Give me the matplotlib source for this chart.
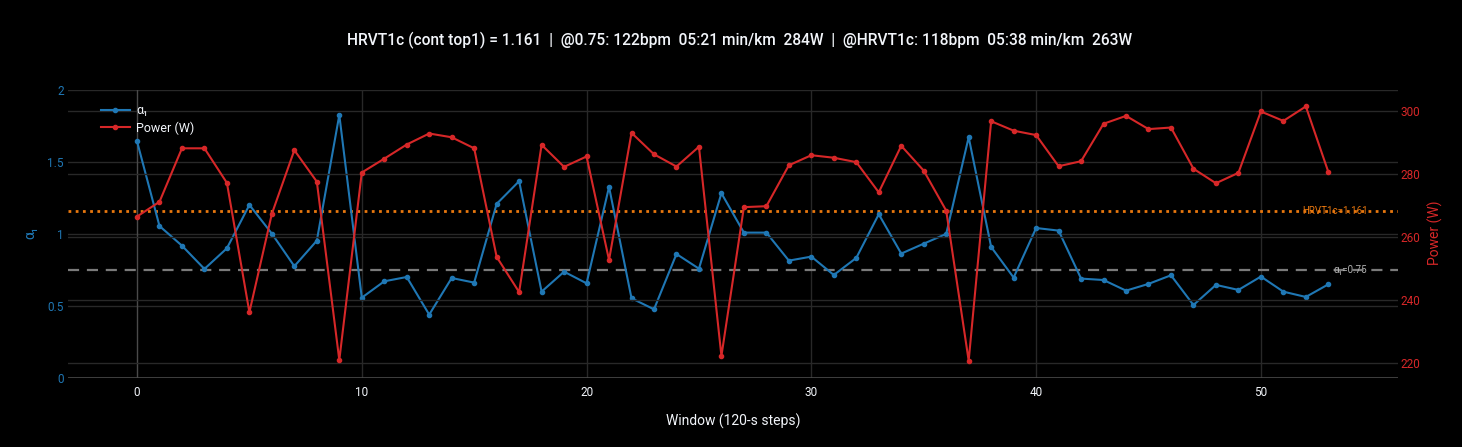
import matplotlib
matplotlib.use("Agg")
import matplotlib.pyplot as plt
from matplotlib.lines import Line2D

plt.rcParams['font.family'] = ['Roboto', 'DejaVu Sans']

# ---- data ----
window = list(range(54))
alpha1 = [1.646, 1.056, 0.919, 0.757, 0.901, 1.203, 1.003, 0.776, 0.954, 1.829,
          0.557, 0.671, 0.701, 0.439, 0.694, 0.662, 1.210, 1.368, 0.599, 0.738,
          0.657, 1.328, 0.553, 0.476, 0.861, 0.759, 1.284, 1.010, 1.010, 0.815,
          0.843, 0.715, 0.834, 1.138, 0.864, 0.933, 1.001, 1.674, 0.910, 0.697,
          1.042, 1.024, 0.690, 0.680, 0.606, 0.653, 0.713, 0.506, 0.646, 0.611,
          0.704, 0.599, 0.562, 0.650]
power = [266.4, 271.1, 288.1, 288.1, 277.1, 236.0, 267.3, 287.5, 277.5, 220.8,
         280.4, 284.8, 289.3, 292.8, 291.6, 288.1, 253.6, 242.4, 289.2, 282.2,
         285.5, 252.6, 293.0, 286.2, 282.3, 288.6, 222.1, 269.4, 269.7, 282.7,
         285.9, 285.1, 283.7, 274.1, 288.9, 281.0, 268.3, 220.6, 296.7, 293.7,
         292.3, 282.4, 284.0, 295.9, 298.4, 294.2, 294.7, 281.6, 277.0, 280.3,
         299.8, 296.8, 301.4, 280.6]
hrvt1c = 1.161
alpha_ref = 0.75
title = ("HRVT1c (cont top1) = 1.161  |  @0.75: 122bpm  05:21 min/km  284W  |  "
         "@HRVT1c: 118bpm  05:38 min/km  263W")
x_ticks = [0, 10, 20, 30, 40, 50]
left_ticks = [0, 0.5, 1, 1.5, 2]
left_ticklabels = ["0", "0.5", "1", "1.5", "2"]
right_ticks = [220, 240, 260, 280, 300]

BLUE = '#1f77b4'
RED = '#d62728'
ORANGE = '#e8770e'
TXT = '#f2f5fa'
GRID = '#282828'
ZERO = '#4a4a4a'

fig = plt.figure(figsize=(14.62, 4.47), dpi=100, facecolor='black')
ax = fig.add_axes([68/1462, 1-377.7/447, (1398-68)/1462, (377.7-90.4)/447])
ax.set_facecolor('black')
ax2 = ax.twinx()

ax.set_xlim(-3.07, 56.1)
ax.set_ylim(0, 2)
ax2.set_ylim(215.2, 306.5)

# grids
ax.set_xticks(x_ticks)
ax.set_yticks(left_ticks)
ax2.set_yticks(right_ticks)
for t in x_ticks[1:]:
    ax.axvline(t, color=GRID, lw=1, zorder=0)
ax.axvline(0, color=ZERO, lw=1, zorder=0.5)
for t in left_ticks[1:]:
    ax.axhline(t, color=GRID, lw=1, zorder=0)
ax.axhline(0, color=ZERO, lw=1.2, zorder=0.5)
for t in right_ticks:
    ax2.axhline(t, color=GRID, lw=1, zorder=0)

for a in (ax, ax2):
    for s in a.spines.values():
        s.set_visible(False)

# reference lines
ax.axhline(hrvt1c, color=ORANGE, lw=2, ls=(0, (1, 1.6)), zorder=1)
ax.axhline(alpha_ref, color='#7a7a7a', lw=1.6, ls=(0, (5, 3.5)), zorder=1)
ax.text(0.977, hrvt1c, "HRVT1c=1.161", transform=ax.get_yaxis_transform(),
        ha='right', va='center', color=ORANGE, fontsize=7)
ax.text(0.977, alpha_ref, "α₁=0.75", transform=ax.get_yaxis_transform(),
        ha='right', va='center', color='#b0b0b0', fontsize=7)

# series
ax.plot(window, alpha1, color=BLUE, lw=1.5, marker='o', ms=3.0, zorder=3)
ax2.plot(window, power, color=RED, lw=1.5, marker='o', ms=3.0, zorder=3)

# ticks
ax.tick_params(axis='x', length=0, pad=6, labelsize=8.5, colors=TXT)
ax.tick_params(axis='y', length=0, pad=3, labelsize=8.5, colors=BLUE)
ax.set_yticklabels(left_ticklabels)
ax2.tick_params(axis='y', length=0, pad=2, labelsize=8.5, colors=RED)

# labels
fig.text(733/1462, 1-421/447, "Window (120-s steps)", ha='center', va='center',
         color=TXT, fontsize=10)
fig.text(30/1462, 1-233/447, "α₁", ha='center', va='center', rotation=90,
         color=BLUE, fontsize=10)
fig.text(1435/1462, 1-233/447, "Power (W)", ha='center', va='center', rotation=90,
         color=RED, fontsize=10)
fig.text(740/1462, 1-40/447, title, ha='center', va='center', color=TXT,
         fontsize=11.2, fontweight='medium')

handles = [Line2D([], [], color=BLUE, lw=1.5, marker='o', ms=3.0),
           Line2D([], [], color=RED, lw=1.5, marker='o', ms=3.0)]
leg = ax2.legend(handles, ["α₁", "Power (W)"], loc='upper left',
                 bbox_to_anchor=(0.021, 0.97), frameon=False, fontsize=9,
                 labelcolor=TXT, handlelength=2.3, handletextpad=0.5,
                 labelspacing=0.35, borderaxespad=0)

fig.savefig('out.png', dpi=100, facecolor='black')
